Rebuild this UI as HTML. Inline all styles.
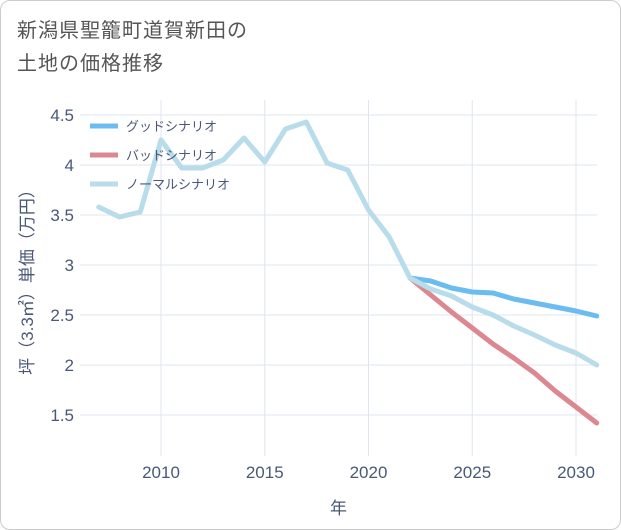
<!DOCTYPE html>
<html><head><meta charset="utf-8">
<style>
body{margin:0;background:#fff;font-family:"Liberation Sans","Noto Sans CJK JP",sans-serif;}
#wrap{position:relative;width:619px;height:528px;border:1px solid #ccc;border-radius:10px;overflow:hidden;background:#fff}
#title{position:absolute;left:16px;top:14px;font-size:20px;line-height:33px;color:#555;letter-spacing:1px}
</style></head><body>
<div id="wrap">
<div id="title">新潟県聖籠町道賀新田の<br>土地の価格推移</div>
<svg id="svg" width="621" height="530" style="position:absolute;left:-1px;top:-1px"></svg>
</div>
<script>
const years=[2007,2008,2009,2010,2011,2012,2013,2014,2015,2016,2017,2018,2019,2020,2021,2022];
const histValues=[3.58,3.48,3.53,4.25,3.97,3.97,4.05,4.27,4.03,4.36,4.43,4.02,3.95,3.55,3.28,2.87];
const futureYears=[2022,2023,2024,2025,2026,2027,2028,2029,2030,2031];
const goodValues=[2.87,2.84,2.77,2.73,2.72,2.66,2.62,2.58,2.54,2.49];
const badValues=[2.87,2.70,2.53,2.37,2.21,2.07,1.92,1.74,1.58,1.42];
const normalValues=[2.87,2.76,2.69,2.58,2.50,2.39,2.30,2.20,2.12,2.00];
const xTicks=[2010,2015,2020,2025,2030];
const yTicks=[1.5,2,2.5,3,3.5,4,4.5];
const yTickLabels=["1.5","2","2.5","3","3.5","4","4.5"];
const NS="http://www.w3.org/2000/svg";
const svg=document.getElementById('svg');
const L=80,R=597,T=100,B=456;
const x=v=>161+(v-2010)*20.75;
const y=v=>115+(4.5-v)*100;
function mk(t,a,p){const e=document.createElementNS(NS,t);for(const k in a)e.setAttribute(k,a[k]);(p||svg).appendChild(e);return e;}
mk('rect',{x:L,y:T,width:R-L,height:B-T,fill:'#fff'});
yTicks.forEach((v,i)=>{
 const g=mk('line',{x1:L,x2:R,y1:y(v),y2:y(v),stroke:'#dfe5ee','stroke-width':1});
 
 const t=mk('text',{x:L-6,y:y(v)+6,'text-anchor':'end','font-size':17,fill:'#4a5878'});
 t.textContent=yTickLabels[i];
 
});
xTicks.forEach(v=>{
 const g=mk('line',{x1:x(v),x2:x(v),y1:T,y2:B,stroke:'#dfe5ee','stroke-width':1});
 
 const t=mk('text',{x:x(v),y:B+22,'text-anchor':'middle','font-size':17,fill:'#4a5878'});
 t.textContent=v;
 
});
const xt=mk('text',{x:(L+R)/2,y:514,'text-anchor':'middle','font-size':17,fill:'#4a5878'});xt.textContent='年';

const yt=mk('text',{x:0,y:0,'text-anchor':'middle','font-size':17,fill:'#4a5878',transform:'translate(33,'+((T+B)/2)+') rotate(-90)'});yt.textContent='坪（3.3㎡）単価（万円）';

function line(xs,vs,c,n){const p=mk('polyline',{points:xs.map((a,i)=>x(a)+','+y(vs[i])).join(' '),fill:'none',stroke:c,'stroke-width':5,'stroke-linejoin':'round','stroke-linecap':'round'});
 }
line(futureYears,goodValues,'#6bbcf0','good-scenario-line');
line(futureYears,badValues,'#dc8890','bad-scenario-line');
line(futureYears,normalValues,'#b8dcea','normal-scenario-line');
line(years,histValues,'#b8dcea','historical-line');
const leg=[['グッドシナリオ','#6bbcf0'],['バッドシナリオ','#dc8890'],['ノーマルシナリオ','#b8dcea']];
leg.forEach((l,i)=>{const yy=126+i*29;
 const g=mk('g',{});
 mk('line',{x1:90,x2:118,y1:yy,y2:yy,stroke:l[1],'stroke-width':5},g);
 const t=mk('text',{x:126,y:yy+5,'font-size':13,fill:'#4a5878'},g);t.textContent=l[0];});
</script>
</body></html>
